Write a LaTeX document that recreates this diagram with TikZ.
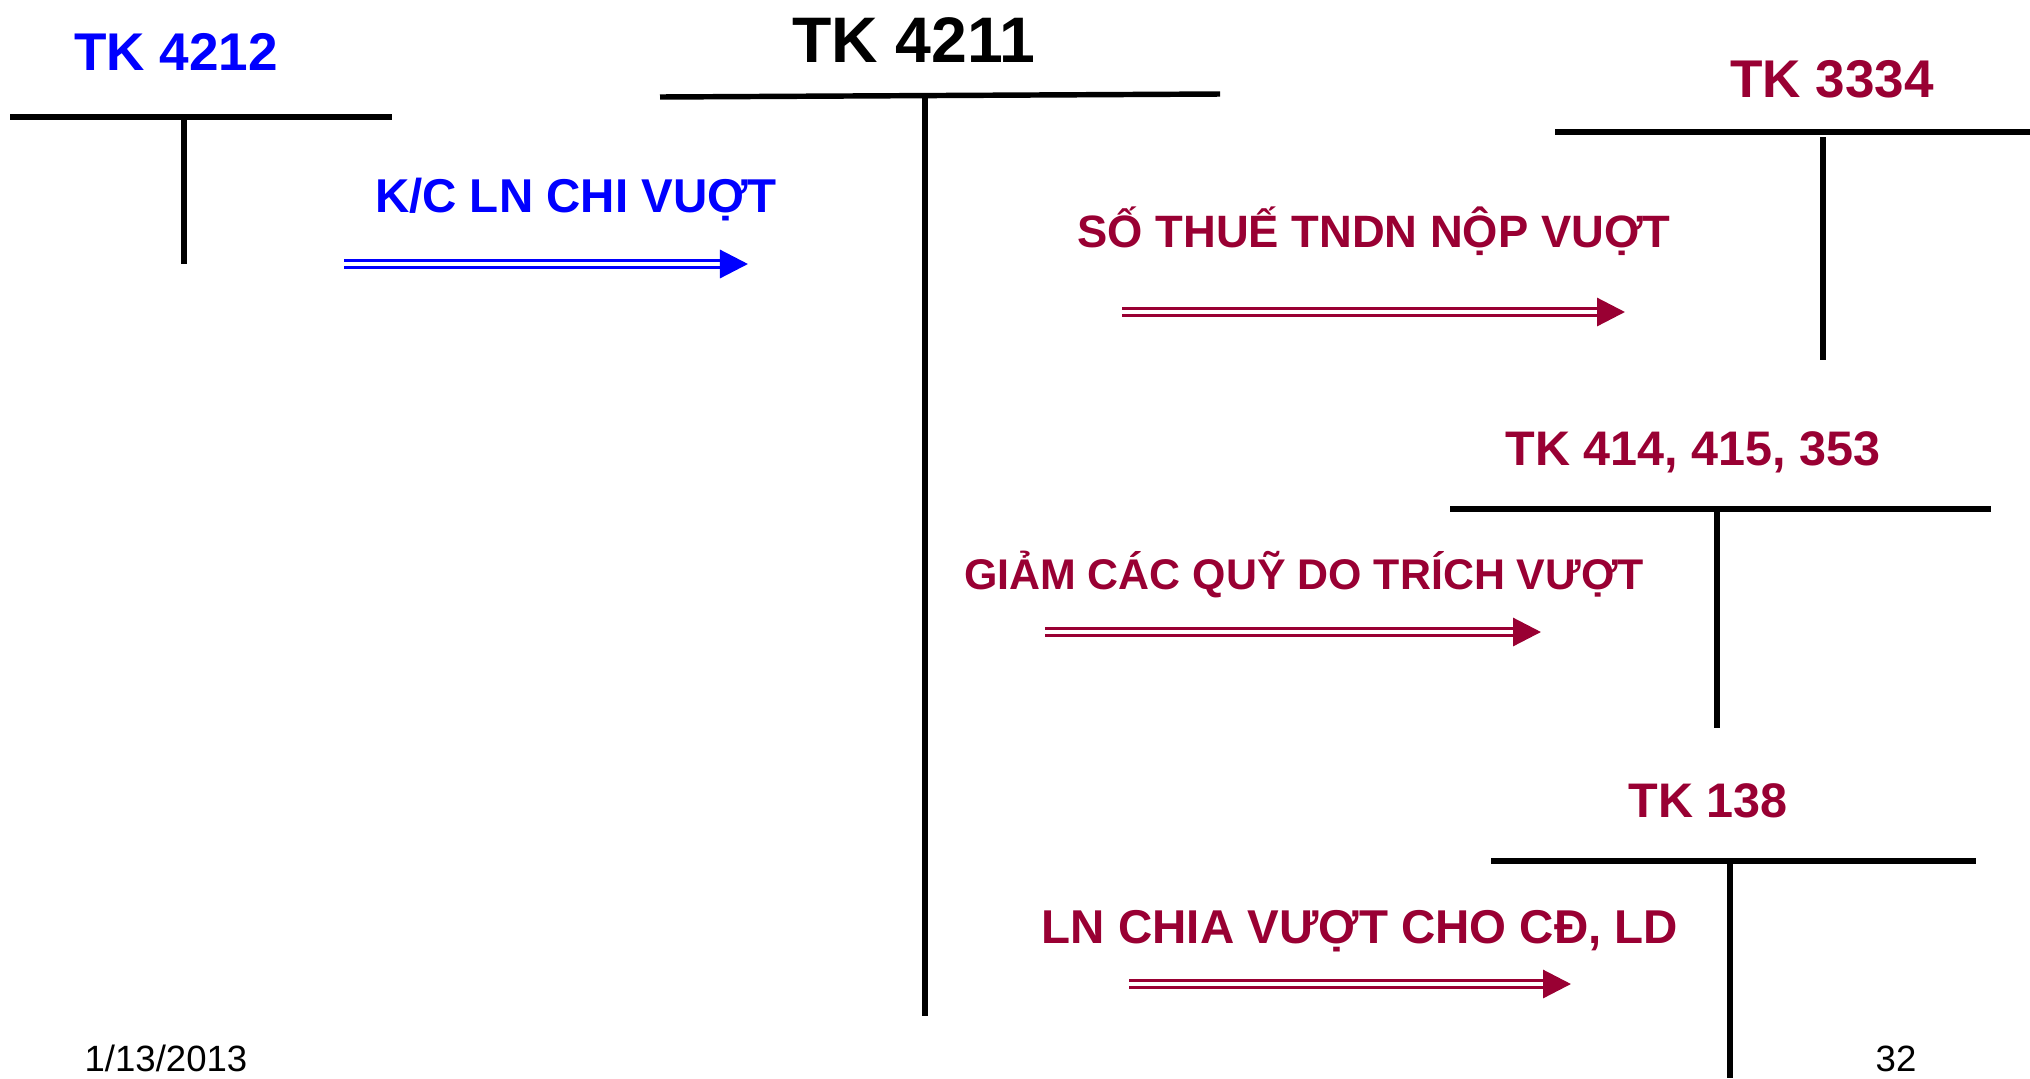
\documentclass[tikz,border=0pt]{standalone}
\usepackage{fontspec}
\setmainfont{Liberation Sans}
\usetikzlibrary{positioning, arrows.meta}
\definecolor{kcblue}{RGB}{0,0,255}
\definecolor{wine}{RGB}{153,0,51}

\begin{document}
\begin{tikzpicture}[
			x=0.01cm, y=-0.01cm,
			>={Triangle[length=0.28cm, width=0.28cm]},
			acct/.style={line width=1.55pt},
			acctname/.style={anchor=base, inner sep=0pt, font=\fontsize{15.1}{18}\selectfont\bfseries},
			subname/.style={acctname, font=\fontsize{13.8}{16}\selectfont\bfseries},
			flowtext/.style={anchor=base, inner sep=0pt, font=\fontsize{13.5}{16}\selectfont\bfseries},
			flow/.style={->, line width=0.9pt, double=white, double distance=1.3pt},
			foot/.style={anchor=base, inner sep=0pt, font=\fontsize{10.4}{12}\selectfont}
			]
			\useasboundingbox (0,0) rectangle (2030,1078);
			
			% 1. TK 4212 (Left)
			\node[acctname, text=kcblue] (t4212) at (176,70) {TK 4212};
			\draw[acct] (10,117) -- (392,117);
			\draw[acct] (184,117) -- (184,264);
			
			% 2. TK 4211 (Centre, long debit side)
			\node[acctname, font=\fontsize{18.3}{22}\selectfont\bfseries] (t4211) at (914,62) {TK 4211};
			\draw[acct] (660,97) -- (1220,94);
			\draw[acct] (925,96) -- (925,1016);
			
			% 3. TRANSFER 4212 -> 4211
			\node[flowtext, text=kcblue] (kcln) at (576,212) {K/C LN CHI VUỢT};
			\coordinate (kc-s) at (344,264);
			\coordinate (kc-e) at (748,264);
			\draw[flow, kcblue] (kc-s) -- (kc-e);
			
			% 4. TK 3334 (Top right)
			\node[acctname, text=wine] (t3334) at (1832,97) {TK 3334};
			\draw[acct] (1555,132) -- (2030,132);
			\draw[acct] (1823,137) -- (1823,360);
			
			\node[flowtext, text=wine, font=\fontsize{12.9}{16}\selectfont\bfseries] (thue) at (1374,247) {SỐ THUẾ TNDN NỘP VUỢT};
			\coordinate (thue-s) at (1122,312);
			\coordinate (thue-e) at (1625,312);
			\draw[flow, wine] (thue-s) -- (thue-e);
			
			% 5. TK 414, 415, 353 (Funds)
			\node[subname, text=wine] (t414) at (1693,465) {TK 414, 415, 353};
			\draw[acct] (1450,509) -- (1991,509);
			\draw[acct] (1717,509) -- (1717,728);
			
			\node[flowtext, text=wine, font=\fontsize{12.2}{15}\selectfont\bfseries] (giamquy) at (1304,589) {GIẢM CÁC QUỸ DO TRÍCH VƯỢT};
			\coordinate (quy-s) at (1045,632);
			\coordinate (quy-e) at (1541,632);
			\draw[flow, wine] (quy-s) -- (quy-e);
			
			% 6. TK 138 (Bottom right)
			\node[subname, text=wine] (t138) at (1708,817) {TK 138};
			\draw[acct] (1491,861) -- (1976,861);
			\draw[acct] (1730,861) -- (1730,1078);
			
			\node[flowtext, text=wine] (chiavuot) at (1360,943) {LN CHIA VƯỢT CHO CĐ, LD};
			\coordinate (chia-s) at (1129,984);
			\coordinate (chia-e) at (1571,984);
			\draw[flow, wine] (chia-s) -- (chia-e);
			
			% 7. FOOTER
			\node[foot] (date) at (166,1071) {1/13/2013};
			\node[foot] (pagenum) at (1896,1071) {32};
		\end{tikzpicture}
\end{document}
